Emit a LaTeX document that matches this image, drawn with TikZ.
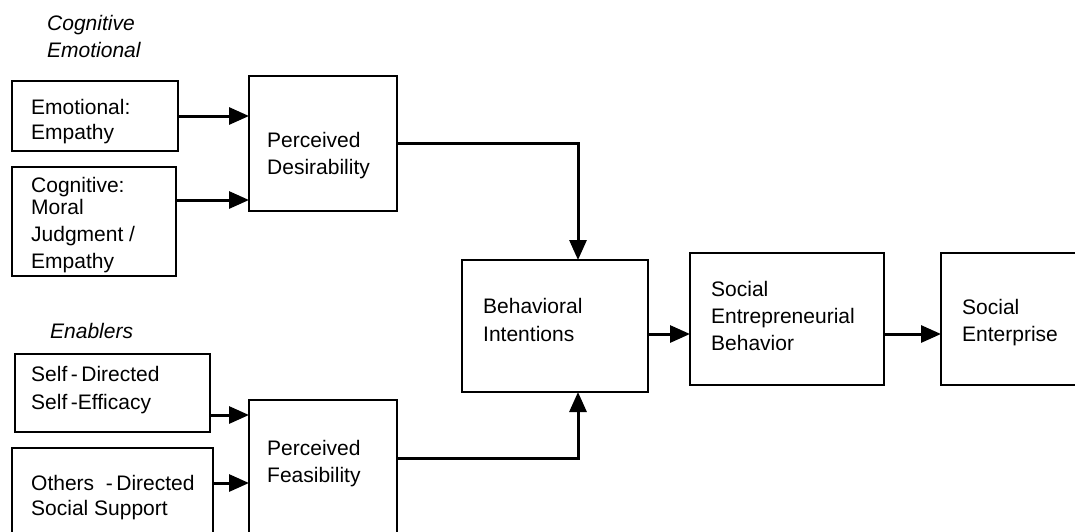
\documentclass[tikz,border=0pt]{standalone}
\usepackage{fontspec}
\setmainfont{Liberation Sans}
\usetikzlibrary{arrows.meta}
\begin{document}
\begin{tikzpicture}[x=1pt,y=-1pt,
  box/.style={draw, line width=2.6pt, anchor=north west, inner sep=0pt, outer sep=0pt},
  txt/.style={anchor=north west, inner sep=0pt, align=left, font=\fontsize{21}{27}\selectfont},
  lab/.style={anchor=north west, inner sep=0pt, align=left, font=\fontsize{21}{27}\selectfont\itshape},
  arr/.style={line width=3pt, -{Triangle[length=20pt,width=17pt]}}]
\useasboundingbox (0,0) rectangle (1075,531);
\clip (0,0) rectangle (1075,531);
% boxes
\node[box, minimum width=166pt, minimum height=70pt]  (emo) at (12,81) {};
\node[box, minimum width=164pt, minimum height=109pt] (cog) at (12,167) {};
\node[box, minimum width=148pt, minimum height=135pt] (pd)  at (249,76) {};
\node[box, minimum width=186pt, minimum height=132pt] (bi)  at (462,260) {};
\node[box, minimum width=194pt, minimum height=132pt] (seb) at (690,253) {};
\node[box, minimum width=160pt, minimum height=132pt] (se)  at (941,253) {};
\node[box, minimum width=195pt, minimum height=78pt]  (self) at (15,354) {};
\node[box, minimum width=201pt, minimum height=120pt] (oth) at (12,448) {};
\node[box, minimum width=148pt, minimum height=160pt] (pf)  at (249,400) {};
% texts
\node[lab] (lcog) at (47,15) {Cognitive\\Emotional};
\node[lab] (lena) at (50,323) {Enablers};
\node[txt, font=\fontsize{21}{25}\selectfont] (temo) at (31,99) {Emotional:\\Empathy};
\node[txt] (tcog) at (31,177) {Cognitive:\\[-5pt]Moral\\Judgment /\\Empathy};
\node[txt] (tpd) at (267,132) {Perceived\\Desirability};
\node[txt, font=\fontsize{21}{28}\selectfont] (tbi) at (483,298) {Behavioral\\Intentions};
\node[txt] (tseb) at (711,281) {Social\\Entrepreneurial\\Behavior};
\node[txt] (tse) at (962,299) {Social\\Enterprise};
\node[txt, font=\fontsize{21}{28}\selectfont] (tself) at (31,366) {Self\,-\,Directed\\Self\,-Efficacy};
\node[txt, font=\fontsize{21}{25}\selectfont] (toth) at (31,475) {Others\ \ -\,Directed\\Social Support};
\node[txt] (tpf) at (267,440) {Perceived\\Feasibility};
% connectors
\draw[arr] (emo.east) -- (emo.east -| pd.west);
\coordinate (c1) at ([yshift=-33pt]cog.north east);
\draw[arr] (c1) -- (c1 -| pd.west);
\coordinate (c2) at ([yshift=-61pt]self.north east);
\draw[arr] (c2) -- (c2 -| pf.west);
\coordinate (c3) at ([yshift=-35pt]oth.north east);
\draw[arr] (c3) -- (c3 -| pf.west);
\draw[arr] (pd.east) -| ([xshift=23pt]bi.north);
\coordinate (c4) at ([yshift=-58pt]pf.north east);
\draw[arr] (c4) -| ([xshift=23pt]bi.south);
\coordinate (c5) at ([yshift=-8pt]bi.east);
\draw[arr] (c5) -- (c5 -| seb.west);
\coordinate (c6) at ([yshift=-81pt]seb.north east);
\draw[arr] (c6) -- (c6 -| se.west);
\end{tikzpicture}
\end{document}
